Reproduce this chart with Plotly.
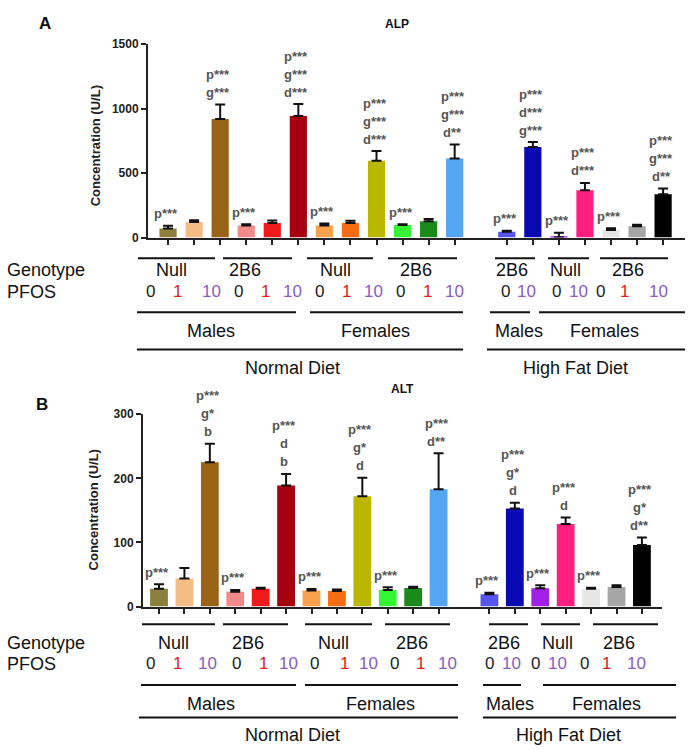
import plotly.graph_objects as go

W, H = 690, 750

# ---------------- data ----------------
diet = ["Normal Diet"] * 12 + ["High Fat Diet"] * 7
sex = ["Males"] * 6 + ["Females"] * 6 + ["Males"] * 2 + ["Females"] * 5
genotype = (["Null"] * 3 + ["2B6"] * 3 + ["Null"] * 3 + ["2B6"] * 3 +
            ["2B6"] * 2 + ["Null"] * 2 + ["2B6"] * 3)
pfos = [0, 1, 10, 0, 1, 10, 0, 1, 10, 0, 1, 10, 0, 10, 0, 10, 0, 1, 10]

bar_colors = ["#8c7f3c", "#f4bd86", "#9a6416", "#f28a8a", "#f01a1a", "#a60010",
              "#f8a24e", "#f56c12", "#bbb600", "#33f533", "#1b8a1b", "#55a6f2",
              "#5656ee", "#0a0ab2", "#a020e8", "#ff1f80", "#e6e6e6", "#a6a6a6", "#000000"]

alp_mean = [70, 122, 920, 94, 114, 944, 94, 114, 596, 97, 127, 614,
            45, 703, 3, 368, 60, 89, 337]
alp_sem = [22, 13, 113, 10, 18, 92, 16, 16, 76, 7, 18, 109,
           8, 38, 35, 56, 12, 11, 44]

alt_mean = [28, 44, 225, 23, 28, 189, 25, 24.5, 172, 26, 29, 183,
            19.4, 153, 28.6, 129, 28, 30.6, 96]
alt_sem = [7, 16, 29, 3, 1.5, 18, 2.5, 2, 29, 4, 2, 56,
           2, 9, 4.5, 10, 1.5, 2.5, 11.6]

alp_sig = [["p***"], [], ["p***", "g***"], ["p***"], [], ["p***", "g***", "d***"],
           ["p***"], [], ["p***", "g***", "d***"], ["p***"], [], ["p***", "g***", "d**"],
           ["p***"], ["p***", "d***", "g***"], ["p***"], ["p***", "d***"], ["p***"], [],
           ["p***", "g***", "d**"]]
alt_sig = [["p***"], [], ["p***", "g*", "b"], ["p***"], [], ["p***", "d", "b"],
           ["p***"], [], ["p***", "g*", "d"], ["p***"], [], ["p***", "d**"],
           ["p***"], ["p***", "g*", "d"], ["p***"], ["p***", "d"], ["p***"], [],
           ["p***", "g*", "d**"]]

alp_ticks = [0, 500, 1000, 1500]
alt_ticks = [0, 100, 200, 300]

genotype_groups = ["Null", "2B6", "Null", "2B6", "2B6", "Null", "2B6"]
sex_groups = ["Males", "Females", "Males", "Females"]
diet_groups = ["Normal Diet", "High Fat Diet"]

# bar positions: one empty slot between diets
pos = [i + (1 if d == "High Fat Diet" else 0) for i, d in enumerate(diet)]

FONT = "Liberation Sans, Arial, sans-serif"


def X(px):
    return px / W


def Y(py):
    return 1 - py / H


fig = go.Figure()

fig.add_trace(go.Bar(x=pos, y=alp_mean, marker=dict(color=bar_colors, line=dict(width=0)),
                     width=0.66,
                     error_y=dict(type="data", array=alp_sem, arrayminus=[0] * len(alp_sem),
                                  symmetric=False, color="#111", thickness=2, width=5),
                     xaxis="x", yaxis="y", showlegend=False))
fig.add_trace(go.Bar(x=pos, y=alt_mean, marker=dict(color=bar_colors, line=dict(width=0)),
                     width=0.7,
                     error_y=dict(type="data", array=alt_sem, arrayminus=[0] * len(alt_sem),
                                  symmetric=False, color="#111", thickness=2, width=5),
                     xaxis="x2", yaxis="y2", showlegend=False))

axis_common = dict(showline=True, linecolor="#222", linewidth=2, showgrid=False,
                   zeroline=False, ticks="outside", tickcolor="#222", tickwidth=2,
                   ticklen=5)

fig.update_layout(
    width=W, height=H, margin=dict(l=0, r=0, t=0, b=0),
    paper_bgcolor="white", plot_bgcolor="white",
    xaxis=dict(domain=[X(148), X(685)], range=[-0.77, 19.84], anchor="y",
               tickvals=pos, showticklabels=False, **axis_common),
    yaxis=dict(domain=[Y(235), Y(38)], range=[0, 1500], anchor="x",
               tickvals=alp_ticks, tickfont=dict(family=FONT, size=12, color="#222", weight="bold"),
               **axis_common),
    xaxis2=dict(domain=[X(143), X(662)], range=[-0.63, 19.79], anchor="y2",
                tickvals=pos, showticklabels=False, **axis_common),
    yaxis2=dict(domain=[Y(611), Y(415)], range=[0, 300], anchor="x2",
                tickvals=alt_ticks, tickfont=dict(family=FONT, size=12, color="#222", weight="bold"),
                **axis_common),
)

ann = []
shapes = []


def text_ann(txt, x, y, size, color="#111", bold=False, xanchor="center", angle=0):
    f = dict(family=FONT, size=size, color=color)
    if bold:
        f["weight"] = "bold"
    return dict(x=X(x), y=Y(y), xref="paper", yref="paper", text=txt, showarrow=False,
                xanchor=xanchor, yanchor="middle", textangle=angle, font=f)


# significance labels
for xr, yr, means, sems, sigs in [("x", "y", alp_mean, alp_sem, alp_sig),
                                  ("x2", "y2", alt_mean, alt_sem, alt_sig)]:
    for p, m, s, labs in zip(pos, means, sems, sigs):
        n = len(labs)
        for k, lab in enumerate(labs):
            ann.append(dict(x=p, y=m + s, xref=xr, yref=yr, text=lab, showarrow=False,
                            xanchor="center", yanchor="middle", xshift=-2,
                            yshift=12 + 18 * (n - 1 - k),
                            font=dict(family=FONT, size=13, color="#555", weight="bold")))

# panel letters, titles, y titles
ann.append(text_ann("A", 45, 17, 17, bold=True))
ann.append(text_ann("B", 42, 405, 17, bold=True))
ann.append(text_ann("ALP", 397, 17, 12, bold=True))
ann.append(text_ann("ALT", 402, 389, 12, bold=True))
ann.append(text_ann("Concentration (U/L)", 95, 142, 13, color="#222", bold=True, angle=-90))
ann.append(text_ann("Concentration (U/L)", 93, 513, 13, color="#222", bold=True, angle=-90))

pfos_colors = {0: "#222222", 1: "#e0201a", 10: "#8a5cc2"}


def hline(a, b, y):
    shapes.append(dict(type="line", xref="paper", yref="paper", x0=X(a), x1=X(b),
                       y0=Y(y), y1=Y(y), line=dict(color="#111", width=2)))


def add_block(geno_y, geno_line_y, pfos_y, sex_line_y, sex_y, diet_line_y, diet_y,
              geno_lines, geno_x, pfos_x, sex_lines, sex_x, diet_lines, diet_x):
    ann.append(text_ann("Genotype", 5, geno_y, 18, xanchor="left"))
    ann.append(text_ann("PFOS", 5, pfos_y, 18, xanchor="left"))
    for (a, b) in geno_lines:
        hline(a, b, geno_line_y)
    for g, x in zip(genotype_groups, geno_x):
        ann.append(text_ann(g, x, geno_y, 18))
    for v, x in zip(pfos, pfos_x):
        ann.append(text_ann(str(v), x, pfos_y, 17, color=pfos_colors[v]))
    for (a, b) in sex_lines:
        hline(a, b, sex_line_y)
    for s, x in zip(sex_groups, sex_x):
        ann.append(text_ann(s, x, sex_y, 18))
    for (a, b) in diet_lines:
        hline(a, b, diet_line_y)
    for d, x in zip(diet_groups, diet_x):
        ann.append(text_ann(d, x, diet_y, 18))


add_block(268, 256, 290, 311, 330, 349, 368,
          [(138, 215), (223, 292), (307, 373), (388, 457), (495, 535), (548, 589), (600, 668)],
          [171, 245, 335, 416, 512, 565, 628],
          [150, 177, 211, 238, 265, 292, 319, 346, 373, 400, 427, 454, 505, 526, 556, 578, 600, 624, 658],
          [(137, 296), (310, 463), (490, 530), (539, 685)],
          [211, 375, 519, 604],
          [(137, 463), (487, 685)],
          [292, 575])

add_block(648, 629, 669, 691, 710, 724, 742,
          [(142, 215), (223, 288), (305, 372), (385, 450), (489, 528), (541, 580), (593, 658)],
          [173, 248, 333, 412, 504, 557, 619],
          [150, 177, 207, 236, 263, 288, 314, 344, 368, 394, 420, 447, 489, 511, 535, 557, 584, 606, 636],
          [(141, 296), (305, 458), (483, 521), (543, 676)],
          [211, 380, 510, 606],
          [(139, 458), (483, 676)],
          [292, 568])

fig.update_layout(annotations=ann, shapes=shapes)
fig.write_html("out.html", config={"displayModeBar": False},
               post_script="document.body.style.margin='0';"
                           "document.body.style.overflow='hidden';"
                           "document.documentElement.style.overflow='hidden';")
